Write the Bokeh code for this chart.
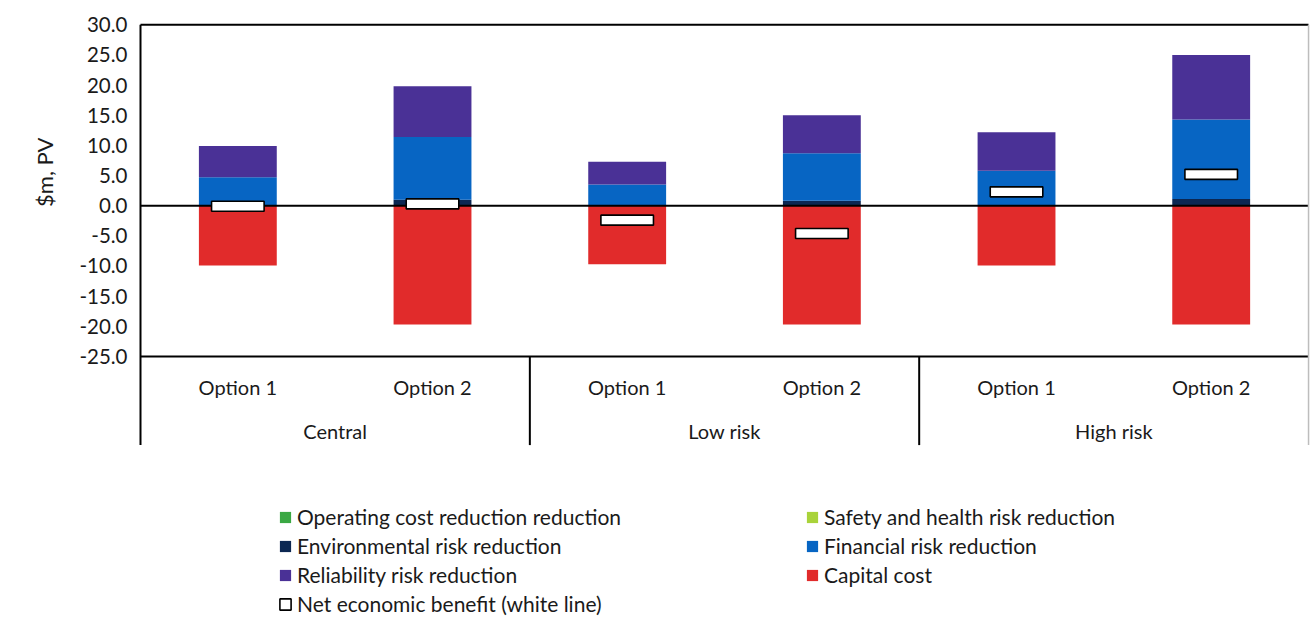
from bokeh.plotting import figure
from bokeh.models import (ColumnDataSource, Range1d, FixedTicker, NumeralTickFormatter,
                          Legend, LegendItem, Title)
from bokeh.core.properties import value
from bokeh.embed import file_html
from bokeh.resources import INLINE

# ---------------- data ----------------
scenarios = ["Central", "Low risk", "High risk"]
options = ["Option 1", "Option 2"]

operating = [0.0, 0.1, 0.0, 0.1, 0.0, 0.1]
safety = [0.0, 0.0, 0.0, 0.0, 0.0, 0.0]
environmental = [0.1, 0.9, 0.1, 0.7, 0.1, 1.0]
financial = [4.6, 10.4, 3.4, 7.9, 5.7, 13.2]
reliability = [5.2, 8.4, 3.8, 6.3, 6.4, 10.7]
capital = [-9.9, -19.7, -9.7, -19.7, -9.9, -19.7]
net = [-0.1, 0.3, -2.4, -4.6, 2.3, 5.2]

y_ticks = [-25, -20, -15, -10, -5, 0, 5, 10, 15, 20, 25, 30]

series_names = ["Operating cost reduction reduction", "Safety and health risk reduction",
                "Environmental risk reduction", "Financial risk reduction",
                "Reliability risk reduction", "Capital cost",
                "Net economic benefit (white line)"]
y_title = "$m, PV"

# ---------------- styling ----------------
FONT = "Lato"
TXT = "#1a1a1a"
C_OPER = "#3aa843"
C_SAFE = "#a9d33a"
C_ENV = "#0c2752"
C_FIN = "#0765c3"
C_REL = "#4a3196"
C_CAP = "#e12b2b"

n_slots = len(scenarios) * len(options)
xs = [i + 0.5 for i in range(n_slots)]
opt_labels = [o for s in scenarios for o in options]
grp_x = [len(options) * (j + 0.5) for j in range(len(scenarios))]

ymin, ymax = y_ticks[0], y_ticks[-1]
cat_bottom = -39.7       # lower end of the category-axis separators
opt_label_y = -30.1
grp_label_y = -37.4

src = ColumnDataSource(dict(x=xs, operating=operating, safety=safety,
                            environmental=environmental, financial=financial,
                            reliability=reliability, capital=capital, net=net))

p = figure(width=1310, height=617, output_backend="svg", toolbar_location=None,
           x_range=Range1d(-0.01027, 6.0101), y_range=Range1d(-68.29, 30.38),
           min_border_left=138, min_border_right=0, min_border_top=22, min_border_bottom=0)
p.outline_line_color = None
p.grid.visible = False
p.xaxis.visible = False

yax = p.yaxis[0]
yax.ticker = FixedTicker(ticks=y_ticks)
yax.formatter = NumeralTickFormatter(format="0.0")
yax.axis_line_color = None
yax.major_tick_line_color = None
yax.minor_tick_line_color = None
yax.major_tick_out = 0
yax.major_tick_in = 0
yax.minor_tick_out = 0
yax.major_label_standoff = 11
yax.major_label_text_font = FONT
yax.major_label_text_font_size = "20.5px"
yax.major_label_text_color = TXT

p.add_layout(Title(text=y_title, align="right", offset=115, standoff=38,
                   text_font=FONT, text_font_size="22px", text_font_style="normal",
                   text_color=TXT), "left")

stack_cols = ["operating", "safety", "environmental", "financial", "reliability"]
stack_colors = [C_OPER, C_SAFE, C_ENV, C_FIN, C_REL]
stack_r = p.vbar_stack(stack_cols, x="x", width=0.4, color=stack_colors, line_color=None,
                       source=src)
cap_r = p.vbar(x="x", top=0, bottom="capital", width=0.4, fill_color=C_CAP, line_color=None,
               source=src)

# frame / axis lines
p.segment(x0=[0, 0, 0], x1=[n_slots] * 3, y0=[0, ymin, ymax], y1=[0, ymin, ymax],
          line_color="black", line_width=2)
sep_x = [len(options) * j for j in range(1, len(scenarios))]
p.segment(x0=[0] + sep_x, x1=[0] + sep_x, y0=[ymax] + [ymin] * len(sep_x),
          y1=[cat_bottom] * (1 + len(sep_x)), line_color="black", line_width=2)
p.segment(x0=[n_slots], x1=[n_slots], y0=[ymax], y1=[cat_bottom], line_color="#bdbdbd",
          line_width=1.5)

net_r = p.rect(x="x", y="net", width=0.27, height=10, height_units="screen",
               fill_color="white", line_color="black", line_width=1.6, source=src)

p.text(x=xs, y=[opt_label_y] * n_slots, text=opt_labels, text_align="center",
       text_baseline="middle", text_font=value(FONT), text_font_size="20px", text_color=TXT)
p.text(x=grp_x, y=[grp_label_y] * len(scenarios), text=scenarios, text_align="center",
       text_baseline="middle", text_font=value(FONT), text_font_size="20px", text_color=TXT)

renderers = list(stack_r) + [cap_r, net_r]
items = [LegendItem(label=name, renderers=[r]) for name, r in zip(series_names, renderers)]
legend = Legend(items=items, location=(140, 1), orientation="horizontal", ncols=2,
                label_width=504, glyph_width=14, glyph_height=14, label_standoff=5,
                spacing=4, padding=0, margin=0, border_line_color=None,
                background_fill_alpha=0, label_text_font=FONT, label_text_font_size="21px",
                label_text_color=TXT, label_height=20)
p.add_layout(legend, "center")

open("out.html", "w").write(file_html(p, INLINE))
